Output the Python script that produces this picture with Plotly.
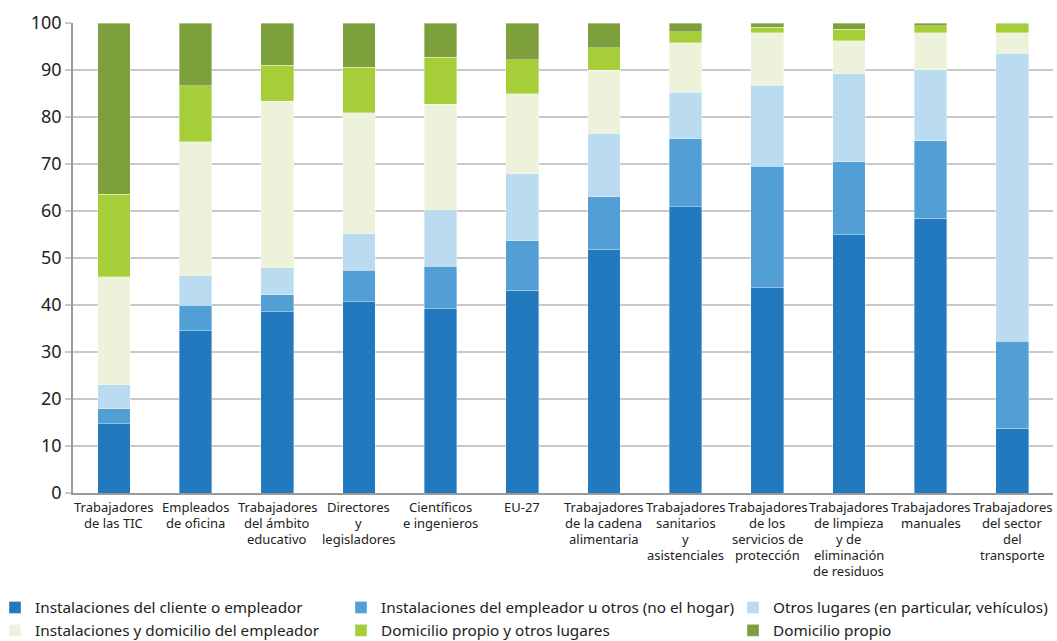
import plotly.graph_objects as go

# Occupational groups (x-axis categories); "<br>" marks a line break in the label
categories = [
    "Trabajadores<br>de las TIC",
    "Empleados<br>de oficina",
    "Trabajadores<br>del ámbito<br>educativo",
    "Directores<br>y<br>legisladores",
    "Científicos<br>e ingenieros",
    "EU-27",
    "Trabajadores<br>de la cadena<br>alimentaria",
    "Trabajadores<br>sanitarios<br>y<br>asistenciales",
    "Trabajadores<br>de los<br>servicios de<br>protección",
    "Trabajadores<br>de limpieza<br>y de<br>eliminación<br>de residuos",
    "Trabajadores<br>manuales",
    "Trabajadores<br>del sector<br>del<br>transporte",
]

# Share of workers (%) by place of work
instalaciones_cliente = [14.7, 34.5, 38.6, 40.7, 39.2, 43.1, 51.8, 60.9, 43.7, 55.0, 58.5, 13.8]
instalaciones_otros = [3.2, 5.4, 3.6, 6.7, 9.0, 10.6, 11.2, 14.5, 25.8, 15.5, 16.5, 18.5]
otros_lugares = [5.1, 6.3, 5.7, 7.8, 12.1, 14.2, 13.5, 9.9, 17.3, 18.7, 15.1, 61.3]
instalaciones_domicilio = [23.0, 28.5, 35.4, 25.7, 22.4, 17.0, 13.5, 10.5, 11.1, 7.0, 7.8, 4.3]
domicilio_otros = [17.6, 12.0, 7.7, 9.7, 10.0, 7.3, 4.7, 2.3, 1.2, 2.5, 1.5, 1.9]
domicilio_propio = [36.4, 13.3, 9.0, 9.4, 7.3, 7.8, 5.3, 1.9, 0.9, 1.3, 0.6, 0.2]

series = [
    ("Instalaciones del cliente o empleador", instalaciones_cliente, "#2379bd", "legend"),
    ("Instalaciones del empleador u otros (no el hogar)", instalaciones_otros, "#529fd6", "legend2"),
    ("Otros lugares (en particular, vehículos)", otros_lugares, "#bbdbf1", "legend3"),
    ("Instalaciones y domicilio del empleador", instalaciones_domicilio, "#edf3db", "legend"),
    ("Domicilio propio y otros lugares", domicilio_otros, "#a6ce39", "legend2"),
    ("Domicilio propio", domicilio_propio, "#7d9f3c", "legend3"),
]

fig = go.Figure()
for i, (name, vals, color, leg) in enumerate(series):
    fig.add_trace(go.Bar(
        x=categories,
        y=vals,
        name=name,
        marker=dict(color=color, line=dict(color="rgba(255,255,255,0.6)", width=0.6)),
        width=0.4,
        legend=leg,
        legendgroup=f"g{i}",
    ))

FONT = "Noto Sans"
TEXT = "#222222"


def legend_column(left_px):
    # one legend column of two entries, placed in page pixels
    return dict(
        orientation="v",
        xref="container",
        yref="container",
        xanchor="left",
        yanchor="top",
        x=left_px / 1057,
        y=1 - 591 / 641,
        indentation=-5,
        font=dict(family=FONT, size=15.3, color=TEXT),
        bgcolor="rgba(0,0,0,0)",
        tracegroupgap=3,
        traceorder="normal",
    )


# Category labels, one line at a time for a tighter line spacing
LINE_STEP = 16
for cat in categories:
    for j, line in enumerate(cat.split("<br>")):
        fig.add_annotation(
            x=cat, xref="x",
            y=0, yref="paper",
            text=line,
            showarrow=False,
            xanchor="center", yanchor="middle",
            borderpad=0,
            yshift=-(14 + LINE_STEP * j),
            font=dict(family=FONT, size=13, color=TEXT),
        )

fig.update_layout(
    barmode="stack",
    width=1057,
    height=641,
    margin=dict(l=73, r=4, t=23, b=148, autoexpand=False),
    paper_bgcolor="white",
    plot_bgcolor="white",
    font=dict(family=FONT, color=TEXT),
    showlegend=True,
    legend=legend_column(0),
    legend2=legend_column(346),
    legend3=legend_column(738),
)

fig.update_yaxes(
    range=[0, 100],
    tickmode="array",
    tickvals=[0, 10, 20, 30, 40, 50, 60, 70, 80, 90, 100],
    showgrid=True,
    gridcolor="#c8c8c8",
    gridwidth=1.5,
    showline=True,
    linecolor="#9a9a9a",
    linewidth=1.5,
    ticks="outside",
    ticklen=6,
    tickcolor="#c8c8c8",
    tickwidth=1.5,
    tickfont=dict(family=FONT, size=18, color=TEXT),
    zeroline=False,
)

fig.update_xaxes(
    showline=True,
    linecolor="#9a9a9a",
    linewidth=2,
    showticklabels=False,
    ticks="",
)

fig.write_html("out.html")
